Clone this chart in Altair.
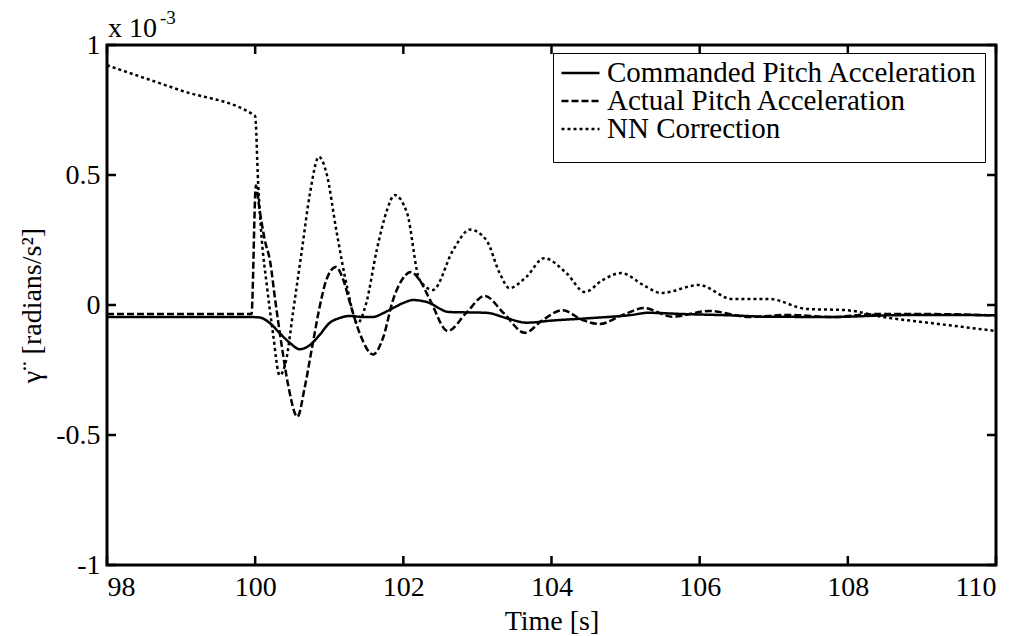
import altair as alt
import pandas as pd

# ---- data (values in units of 1e-3) ----
cmd_t = [98, 99, 99.9, 100.06, 100.2, 100.33, 100.47, 100.6, 100.74, 100.87, 101.0, 101.14,
         101.28, 101.45, 101.59, 101.73, 101.86, 102.0, 102.13, 102.31, 102.62, 103.12, 103.39,
         103.66, 104.0, 104.55, 105.09, 105.3, 105.8, 106.44, 106.9, 107.8, 108.5, 109.2, 110]
cmd_v = [-0.046, -0.046, -0.046, -0.048, -0.07, -0.108, -0.146, -0.17, -0.154, -0.115, -0.07, -0.05,
         -0.042, -0.046, -0.046, -0.031, -0.012, 0.008, 0.019, 0.012, -0.027, -0.03, -0.05,
         -0.068, -0.06, -0.05, -0.038, -0.03, -0.035, -0.04, -0.045, -0.046, -0.04, -0.038, -0.04]

act_t = [98, 99, 99.95, 100.01, 100.06, 100.13, 100.2, 100.27, 100.36, 100.45, 100.57, 100.67,
         100.77, 100.87, 100.96, 101.09, 101.19, 101.28, 101.41, 101.59, 101.73, 101.86, 101.98,
         102.1, 102.22, 102.36, 102.6, 102.85, 103.1, 103.35, 103.64, 103.88, 104.15, 104.42,
         104.65, 104.95, 105.25, 105.63, 106.13, 106.67, 107.2, 107.79, 108.38, 109.14, 110]
act_v = [-0.035, -0.035, -0.035, 0.46, 0.365, 0.25, 0.17, 0.02, -0.16, -0.315, -0.43, -0.315,
         -0.16, -0.008, 0.096, 0.146, 0.096, 0.008, -0.108, -0.19, -0.123, 0.019, 0.096,
         0.127, 0.096, 0.02, -0.10, -0.03, 0.035, -0.03, -0.107, -0.058, -0.02, -0.058,
         -0.073, -0.04, -0.012, -0.045, -0.023, -0.046, -0.038, -0.046, -0.035, -0.035, -0.04]

nn_t = [98, 99, 100.0, 100.04, 100.09, 100.16, 100.24, 100.33, 100.42, 100.51, 100.63, 100.74,
        100.86, 100.96, 101.1, 101.24, 101.38, 101.5, 101.64, 101.78, 101.88, 102.05, 102.22,
        102.4, 102.67, 102.9, 103.12, 103.3, 103.43, 103.66, 103.9, 104.2, 104.45, 104.69,
        104.94, 105.25, 105.48, 105.99, 106.44, 106.94, 107.44, 107.98, 108.47, 109.14, 110]
nn_v = [0.922, 0.825, 0.727, 0.47, 0.25, 0.07, -0.108, -0.27, -0.21, -0.03, 0.21, 0.43,
        0.57, 0.51, 0.28, 0.07, -0.07, 0.008, 0.21, 0.365, 0.423, 0.354, 0.096,
        0.058, 0.21, 0.29, 0.25, 0.123, 0.065, 0.108, 0.18, 0.123, 0.05, 0.096,
        0.123, 0.075, 0.046, 0.077, 0.023, 0.023, -0.015, -0.02, -0.046, -0.07, -0.1]

series_names = ["Commanded Pitch Acceleration", "Actual Pitch Acceleration", "NN Correction"]
x_ticks = [98, 100, 102, 104, 106, 108, 110]
y_ticks = [-1, -0.5, 0, 0.5, 1]

rows = []
for name, ts, vs in zip(series_names, [cmd_t, act_t, nn_t], [cmd_v, act_v, nn_v]):
    for i, (t, v) in enumerate(zip(ts, vs)):
        rows.append({"t": t, "v": v, "series": name, "order": i})
df = pd.DataFrame(rows)

W, H = 889, 520
FONT = "Liberation Serif"
FS = 28
TL = 9  # tick length
LW = 2.5

xscale = alt.Scale(domain=[98, 110], nice=False, zero=False)
yscale = alt.Scale(domain=[-1, 1], nice=False, zero=False)

ylabel_expr = ("datum.value < 0 ? '-' + format(-datum.value, '.1~f') : format(datum.value, '.1~f')")

lines = alt.Chart(df).mark_line(strokeWidth=LW, color="black", interpolate="monotone").encode(
    x=alt.X("t:Q", scale=xscale,
            axis=alt.Axis(values=x_ticks, format="d", title="Time [s]", tickSize=0, labelPadding=8,
                          labelFont=FONT, labelFontSize=FS, titleFont=FONT, titleFontSize=FS,
                          titleY=64, titleBaseline="alphabetic", domain=False, grid=False)),
    y=alt.Y("v:Q", scale=yscale,
            axis=alt.Axis(values=y_ticks, title="γ¨ [radians/s²]", tickSize=0, labelPadding=7,
                          labelFont=FONT, labelFontSize=FS, titleFont=FONT, titleFontSize=FS,
                          titleX=-75, titleY=H / 2, titleAngle=270, titleAlign="center",
                          titleBaseline="middle", domain=False, grid=False,
                          labelExpr=ylabel_expr)),
    strokeDash=alt.StrokeDash("series:N",
                              scale=alt.Scale(domain=series_names, range=[[1, 0], [7, 3], [3, 3]]),
                              legend=alt.Legend(title=" ", titleOrient="bottom", titleFontSize=10,
                                                titlePadding=1,
                                                orient="none", legendX=446, legendY=8,
                                                symbolType="stroke", symbolSize=1444,
                                                symbolStrokeWidth=LW, symbolStrokeColor="black",
                                                labelFontSize=29, labelFont=FONT, labelColor="black",
                                                labelLimit=600, labelOffset=6,
                                                clipHeight=26, rowPadding=-4, padding=7,
                                                strokeColor="black", fillColor="white")),
    order="order:Q",
)

xt = pd.DataFrame({"t": x_ticks})
yt = pd.DataFrame({"v": y_ticks})

top_ticks = alt.Chart(xt).mark_rule(color="black", strokeWidth=2.5).encode(
    x=alt.X("t:Q", scale=xscale), y=alt.value(0), y2=alt.value(TL))
bot_ticks = alt.Chart(xt).mark_rule(color="black", strokeWidth=2.5).encode(
    x=alt.X("t:Q", scale=xscale), y=alt.value(H - TL), y2=alt.value(H))
left_ticks = alt.Chart(yt).mark_rule(color="black", strokeWidth=2.5).encode(
    y=alt.Y("v:Q", scale=yscale), x=alt.value(0), x2=alt.value(TL))
right_ticks = alt.Chart(yt).mark_rule(color="black", strokeWidth=2.5).encode(
    y=alt.Y("v:Q", scale=yscale), x=alt.value(W - TL), x2=alt.value(W))

ann = pd.DataFrame({"t": [98], "v": [1]})
exp_base = alt.Chart(ann).mark_text(text="x 10", font=FONT, fontSize=FS, align="left",
                                    baseline="alphabetic", dx=1, dy=-8, color="black").encode(
    x=alt.X("t:Q", scale=xscale), y=alt.Y("v:Q", scale=yscale))
exp_sup = alt.Chart(ann).mark_text(text="-3", font=FONT, fontSize=19, align="left",
                                   baseline="alphabetic", dx=53, dy=-21, color="black").encode(
    x=alt.X("t:Q", scale=xscale), y=alt.Y("v:Q", scale=yscale))

chart = alt.layer(lines, top_ticks, bot_ticks, left_ticks, right_ticks, exp_base, exp_sup).properties(
    width=W, height=H,
    autosize=alt.AutoSizeParams(type="none"),
    padding={"left": 99, "top": 37, "right": 20, "bottom": 70},
    background="white",
).configure(font=FONT).configure_view(stroke="black", strokeWidth=3).configure_axis(
    labelFont=FONT, labelFontSize=FS, labelColor="black",
    titleFont=FONT, titleFontSize=FS, titleColor="black", titleFontWeight="normal",
).configure_text(font=FONT)

chart.save("out.html", embed_options={"renderer": "svg", "actions": False})
